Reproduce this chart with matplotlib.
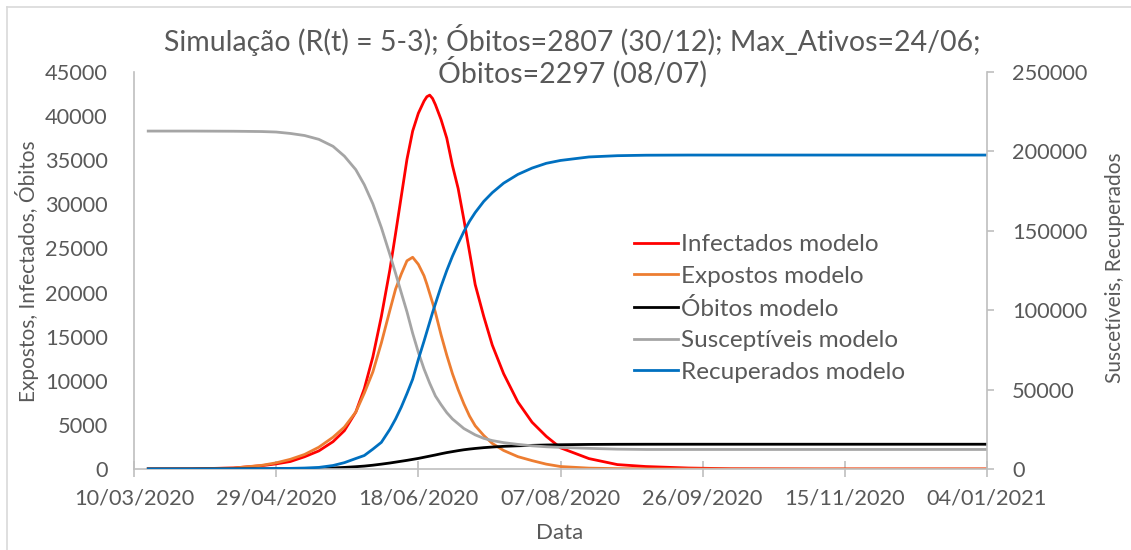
import pandas as pd
import matplotlib.pyplot as plt
import matplotlib.dates as mdates
from matplotlib.lines import Line2D

dias = [5, 20, 35, 45, 50, 55, 60, 65, 70, 74, 78, 81, 84, 87, 90, 92, 94, 96, 98,
        100, 102, 103, 104, 105, 106, 108, 110, 112, 114, 116, 118, 120, 123, 126, 130,
        135, 140, 145, 150, 160, 170, 180, 195, 210, 240, 270, 300]

infectados = [0, 10, 120, 380, 580, 850, 1390, 2050, 3100, 4350, 6450, 9100, 12700,
              17300, 22600, 26700, 30900, 35100, 38300, 40320, 41700, 42200, 42380,
              42000, 41300, 39600, 37500, 34400, 31800, 28300, 24600, 20900, 17300,
              14050, 10800, 7600, 5300, 3700, 2400, 1180, 500, 280, 110, 30, 0, 0, 0]

expostos = [0, 10, 100, 420, 700, 1100, 1650, 2470, 3600, 4750, 6450, 8600, 11000,
            14300, 18000, 20400, 22100, 23600, 24000, 23200, 21900, 20950, 19900, 18850,
            17750, 15200, 12900, 10800, 9000, 7400, 6000, 4900, 3800, 2900, 2100, 1400,
            950, 550, 280, 100, 40, 20, 5, 0, 0, 0, 0]

obitos = [0, 0, 10, 20, 30, 40, 50, 80, 120, 180, 260, 330, 430, 550, 680, 780, 880,
          980, 1090, 1200, 1330, 1395, 1460, 1525, 1590, 1730, 1860, 1970, 2080, 2180,
          2260, 2330, 2420, 2490, 2570, 2630, 2680, 2720, 2750, 2785, 2800, 2805, 2807,
          2807, 2807, 2807, 2807]

suscetiveis = [212800, 212800, 212700, 212500, 212200, 211300, 210000, 207600, 203200,
               197000, 188500, 179000, 167000, 152000, 135000, 123200, 111000, 99000,
               85500, 73500, 63000, 58500, 54000, 50000, 46000, 40500, 35500, 31500,
               28500, 25500, 23500, 21500, 19300, 17900, 16600, 15500, 14600, 14000,
               13600, 13000, 12500, 12300, 12300, 12300, 12300, 12300, 12300]

recuperados = [0, 0, 50, 150, 250, 400, 600, 1000, 2200, 4000, 6600, 8500, 12500, 16800,
               25000, 31500, 39000, 47500, 56500, 69000, 80500, 86500, 92500, 98500,
               104000, 115000, 125000, 134000, 142000, 149500, 156000, 161500, 168500,
               174000, 180000, 185500, 189500, 192500, 194300, 196500, 197300, 197600,
               197700, 197700, 197700, 197700, 197700]

inicio = pd.Timestamp("2020-03-10")
datas = [inicio + pd.Timedelta(days=d) for d in dias]
ticks_x = [inicio + pd.Timedelta(days=50 * i) for i in range(7)]

plt.rcParams["font.family"] = ["Lato", "DejaVu Sans"]
cinza_txt = "#595959"
cinza_eixo = "#BFBFBF"
W, H = 1131, 550

fig = plt.figure(figsize=(W / 100, H / 100), dpi=100)
ax = fig.add_axes([134 / W, 1 - 469 / H, (987 - 134) / W, (469 - 72) / H])
ax2 = ax.twinx()

lw = 2.0
ax.plot(datas, infectados, color="#FF0000", lw=lw, label="Infectados modelo")
ax.plot(datas, expostos, color="#ED7D31", lw=lw, label="Expostos modelo")
ax.plot(datas, obitos, color="#000000", lw=lw, label="Óbitos modelo")
ax2.plot(datas, suscetiveis, color="#A5A5A5", lw=lw, label="Susceptíveis modelo")
ax2.plot(datas, recuperados, color="#0070C0", lw=lw, label="Recuperados modelo")

ax.set_xlim(ticks_x[0], ticks_x[-1])
ax.set_ylim(0, 45000)
ax2.set_ylim(0, 250000)
ax.set_yticks(range(0, 45001, 5000))
ax2.set_yticks(range(0, 250001, 50000))
ax.set_xticks(ticks_x)
ax.xaxis.set_major_formatter(mdates.DateFormatter("%d/%m/%Y"))

fs = 15.7
for a in (ax, ax2):
    for s in a.spines.values():
        s.set_color(cinza_eixo)
        s.set_linewidth(1.2)
    a.spines["top"].set_visible(False)
ax.spines["right"].set_visible(False)
ax2.spines["left"].set_visible(False)
ax2.spines["bottom"].set_visible(False)

ax.tick_params(axis="x", direction="inout", length=12, width=1.2, color=cinza_eixo,
               labelsize=fs, labelcolor=cinza_txt, pad=8)
ax.tick_params(axis="y", length=0, labelsize=fs, labelcolor=cinza_txt, pad=19)
ax2.tick_params(axis="y", direction="out", length=5, width=1.2, color=cinza_eixo,
                labelsize=fs, labelcolor=cinza_txt, pad=13)

# axis titles
fig.text(560 / W, 1 - 533 / H, "Data", ha="center", va="center", fontsize=16,
         color=cinza_txt)
fig.text(27 / W, 1 - 271 / H, "Expostos, Infectados, Óbitos", ha="center", va="center",
         rotation=90, fontsize=15, color=cinza_txt)
fig.text(1115 / W, 1 - 268 / H, "Suscetíveis, Recuperados", ha="center", va="center",
         rotation=90, fontsize=15, color=cinza_txt)

fig.text(572 / W, 1 - 56 / H,
         "Simulação (R(t) = 5-3); Óbitos=2807 (30/12); Max_Ativos=24/06;\nÓbitos=2297 (08/07)",
         ha="center", va="center", fontsize=20.5, color=cinza_txt, linespacing=1.0)

linhas = ax.get_lines() + ax2.get_lines()
handles = [Line2D([], [], color=l.get_color(), lw=lw) for l in linhas]
fig.legend(handles, [l.get_label() for l in linhas], loc="upper left",
           bbox_to_anchor=(622 / W, 1 - 222 / H), frameon=False, fontsize=17.5,
           handlelength=1.8, handletextpad=0.12, labelspacing=0.44, borderpad=0,
           labelcolor=cinza_txt)

# borda da area do grafico
fig.add_artist(Line2D([7 / W, 7 / W], [0, 1 - 7 / H], color="#D9D9D9", lw=1.2,
                      transform=fig.transFigure))
fig.add_artist(Line2D([7 / W, 1], [1 - 7 / H, 1 - 7 / H], color="#D9D9D9", lw=1.2,
                      transform=fig.transFigure))

fig.savefig("out.png", dpi=100)
